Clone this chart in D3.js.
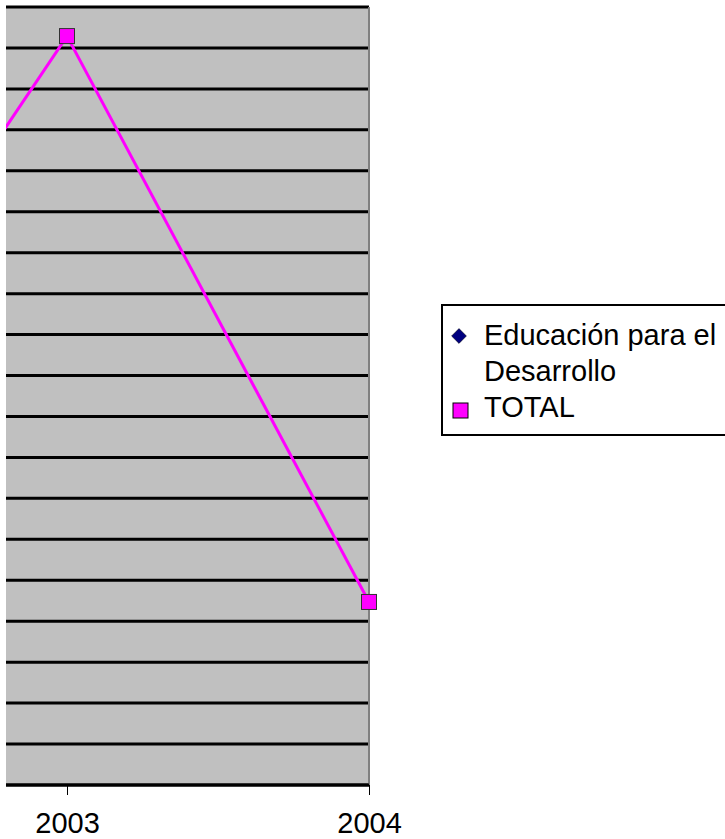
<!DOCTYPE html>
<html>
<head>
<meta charset="utf-8">
<script src="https://cdn.jsdelivr.net/npm/d3@7"></script>
<style>
  body { margin: 0; background: #fff; }
  text { font-family: Arial, "Liberation Sans", sans-serif; fill: #000; }
</style>
</head>
<body>
<div id="chart"></div>
<script>
// data (2002 lies off the left edge, only its line segment shows)
let years = [2002, 2003, 2004];
let totalValues = [729, 1829, 447];
let educacionValues = [null, null, null];
let seriesNames = ["Educación para el Desarrollo", "TOTAL"];
let yTicks = d3.range(0, 2000, 100);
let xTickYears = [2003, 2004];

let width = 725, height = 839;
let plot = { left: 6, right: 369, top: 7, bottom: 785 };

let svg = d3.select("#chart").append("svg")
  .attr("width", width)
  .attr("height", height);

let x = d3.scaleLinear().domain([2003, 2004]).range([67, 369]);
let y = d3.scaleLinear().domain([0, 1900]).range([plot.bottom, plot.top]);

svg.append("defs").append("clipPath").attr("id", "clip")
  .append("rect")
  .attr("x", plot.left).attr("y", plot.top - 20)
  .attr("width", plot.right - plot.left + 20).attr("height", plot.bottom - plot.top + 40);

svg.append("rect")
  .attr("x", plot.left).attr("y", plot.top)
  .attr("width", plot.right - plot.left).attr("height", plot.bottom - plot.top)
  .attr("fill", "#c0c0c0");

// gridlines
svg.append("g").selectAll("line").data(yTicks).enter().append("line")
  .attr("x1", plot.left).attr("x2", plot.right)
  .attr("y1", d => y(d)).attr("y2", d => y(d))
  .attr("stroke", "#000").attr("stroke-width", 3);

// right border of plot area
svg.append("line")
  .attr("x1", plot.right).attr("x2", plot.right)
  .attr("y1", plot.top).attr("y2", plot.bottom)
  .attr("stroke", "#808080").attr("stroke-width", 2);

// x axis
let xAxis = svg.append("g")
  .attr("transform", "translate(0," + plot.bottom + ")")
  .call(d3.axisBottom(x).tickValues(xTickYears).tickFormat(d3.format("d")).tickSize(10).tickPadding(17));
xAxis.select(".domain").remove();
xAxis.selectAll("line").attr("stroke", "#000").attr("stroke-width", 1);
xAxis.selectAll("text").attr("font-size", 29).attr("font-family", "Arial, 'Liberation Sans', sans-serif").attr("fill", "#000");
svg.append("line")
  .attr("x1", plot.left).attr("x2", plot.right)
  .attr("y1", plot.bottom).attr("y2", plot.bottom)
  .attr("stroke", "#000").attr("stroke-width", 3);

let totalData = years.map((yr, i) => ({ year: yr, value: totalValues[i] }));
let eduData = years.map((yr, i) => ({ year: yr, value: educacionValues[i] }));

let line = d3.line()
  .defined(d => d.value !== null)
  .x(d => x(d.year))
  .y(d => y(d.value));

let g = svg.append("g").attr("clip-path", "url(#clip)");

g.append("path").datum(eduData)
  .attr("d", line).attr("fill", "none")
  .attr("stroke", "#000080").attr("stroke-width", 3);

g.append("path").datum(totalData)
  .attr("d", line).attr("fill", "none")
  .attr("stroke", "#ff00ff").attr("stroke-width", 3);

g.selectAll(".mk").data(totalData).enter().append("rect")
  .attr("class", "mk")
  .attr("x", d => x(d.year) - 7.5).attr("y", d => y(d.value) - 7.5)
  .attr("width", 15).attr("height", 15)
  .attr("fill", "#ff00ff").attr("stroke", "#333").attr("stroke-width", 1);

// legend
let legend = svg.append("g");
legend.append("rect")
  .attr("x", 442).attr("y", 305)
  .attr("width", 300).attr("height", 130)
  .attr("fill", "#fff").attr("stroke", "#000").attr("stroke-width", 2);

legend.append("path")
  .attr("d", d3.symbol(d3.symbolDiamond2, 140)())
  .attr("transform", "translate(459,336)")
  .attr("fill", "#000080").attr("stroke", "#000").attr("stroke-width", 0.5);

let eduText = legend.append("text")
  .attr("x", 484).attr("y", 345).attr("font-size", 29);
eduText.append("tspan").attr("x", 484).text("Educación para el");
eduText.append("tspan").attr("x", 484).attr("dy", 36).text("Desarrollo");

legend.append("rect")
  .attr("x", 453).attr("y", 403).attr("width", 15).attr("height", 15)
  .attr("fill", "#ff00ff").attr("stroke", "#000").attr("stroke-width", 1);
legend.append("text")
  .attr("x", 484).attr("y", 417).attr("font-size", 29)
  .text(seriesNames[1]);
</script>
</body>
</html>
